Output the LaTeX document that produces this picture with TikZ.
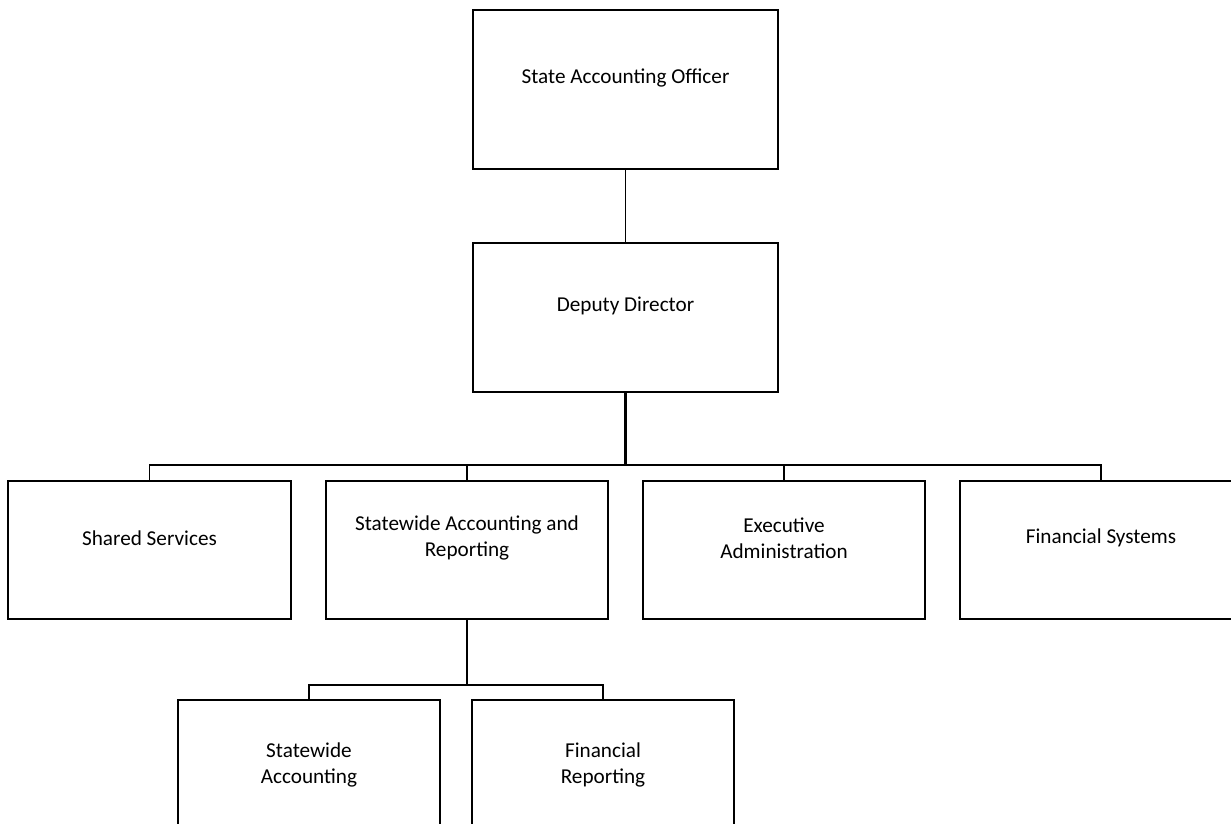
\documentclass[tikz,border=0pt]{standalone}
\usepackage{fontspec}
\setmainfont{Carlito}
\usepackage{tikz}
\usetikzlibrary{calc}
\tikzset{
	unit/.style={draw,line width=1.6pt,inner sep=0pt,minimum width=282pt,minimum height=138pt},
	txt/.style={yshift=12pt,align=center,font=\fontsize{21.2}{26}\selectfont},
	link/.style={line width=1.6pt}
}

\begin{document}
\begin{tikzpicture}[x=1pt,y=-1pt]
			\useasboundingbox (0,0) rectangle (1231,823);
			% top of the chart
			\node[unit,minimum width=305pt,minimum height=159pt,label={[txt]center:State Accounting Officer}] (sao) at (625.5,89.5) {};
			\node[unit,minimum width=305pt,minimum height=149pt,label={[txt]center:Deputy Director}] (dd) at (625.5,317.5) {};
			% divisions
			\node[unit,minimum width=283pt,label={[txt]center:Shared Services}] (ss) at (149.5,550) {};
			\node[unit,label={[txt]center:Statewide Accounting and\\Reporting}] (sar) at (467,550) {};
			\node[unit,label={[txt]center:Executive\\Administration}] (ea) at (784,550) {};
			\node[unit,label={[txt]center:Financial Systems}] (fs) at (1101,550) {};
			% sections
			\node[unit,minimum width=262pt,minimum height=154pt,label={[txt]center:Statewide\\Accounting}] (sa) at (309,777) {};
			\node[unit,minimum width=262pt,minimum height=154pt,label={[txt]center:Financial\\Reporting}] (fr) at (603,777) {};
			\coordinate (B1) at (dd.south |- 0,465);
			\coordinate (B2) at (sar.south |- 0,685);
			\draw[link] (sao.south)--(dd.north);
			\draw[line width=2.4pt] (dd.south)--(B1);
			\foreach \n in {ss,sar,ea,fs}
				\draw[link] (\n.north) |- (B1);
			\draw[link] (sar.south)--(B2);
			\foreach \n in {sa,fr}
				\draw[link] (\n.north) |- (B2);
		\end{tikzpicture}
\end{document}
